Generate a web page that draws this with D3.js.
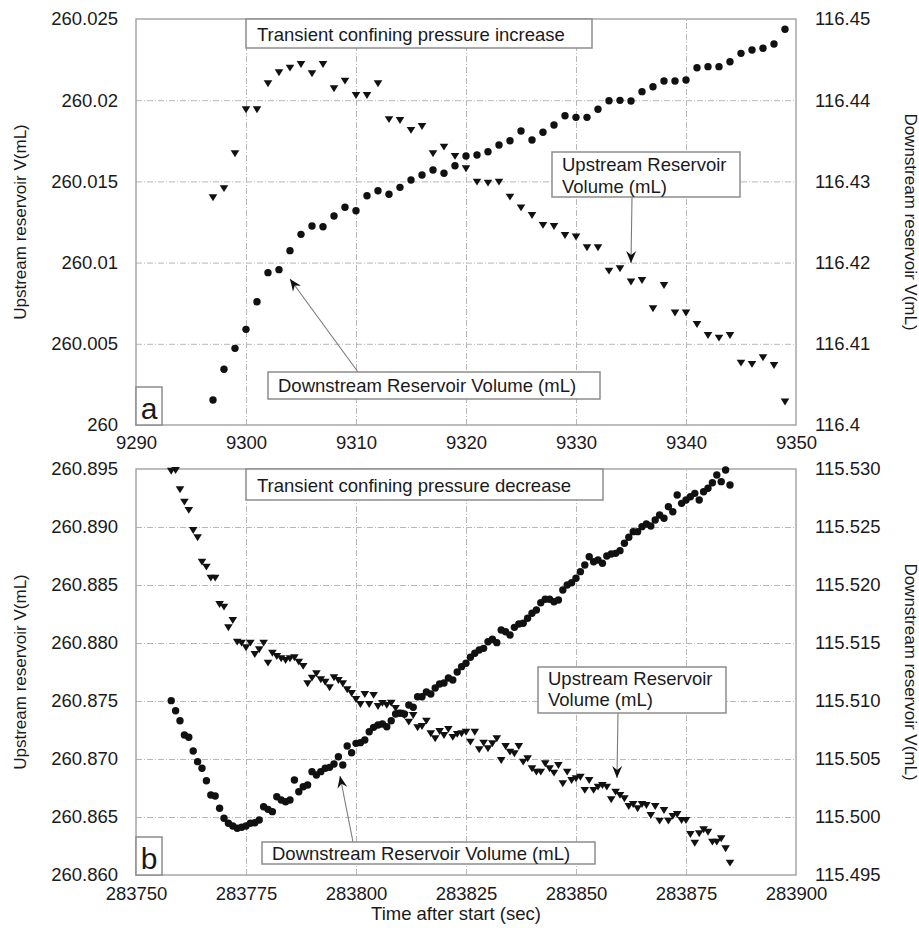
<!DOCTYPE html>
<html><head><meta charset="utf-8">
<script src="https://cdn.jsdelivr.net/npm/d3@7"></script>
<style>
body{margin:0;background:#fff}
svg{display:block}
text{font-family:"Liberation Sans",Arial,Helvetica,sans-serif;fill:#1a1a1a}
</style>
</head><body>
<svg id="c" width="919" height="928"></svg>
<script>
// ---------------- DATA ----------------
// Panel a: transient confining pressure increase
const timeA = [9297,9298,9299,9300,9301,9302,9303,9304,9305,9306,9307,9308,9309,9310,9311,9312,9313,9314,9315,9316,9317,9318,9319,9320,9321,9322,9323,9324,9325,9326,9327,9328,9329,9330,9331,9332,9333,9334,9335,9336,9337,9338,9339,9340,9341,9342,9343,9344,9345,9346,9347,9348,9349];
const upstreamA = [260.01402,260.01458,260.01673,260.01944,260.01944,260.02104,260.02172,260.02200,260.02223,260.02166,260.02223,260.02073,260.02120,260.02032,260.02032,260.02104,260.01883,260.01878,260.01817,260.01841,260.01673,260.01714,260.01657,260.01581,260.01498,260.01492,260.01498,260.01406,260.01340,260.01293,260.01232,260.01225,260.01170,260.01160,260.01094,260.01094,260.00950,260.00965,260.00883,260.00893,260.00719,260.00862,260.00692,260.00692,260.00622,260.00554,260.00538,260.00554,260.00384,260.00376,260.00417,260.00369,260.00144];
const downstreamA = [116.40308,116.40686,116.40944,116.41178,116.41518,116.41876,116.41913,116.42147,116.42348,116.42451,116.42442,116.42574,116.42681,116.42639,116.42824,116.42885,116.42841,116.42927,116.43017,116.43079,116.43140,116.43100,116.43193,116.43313,116.43325,116.43366,116.43448,116.43501,116.43621,116.43510,116.43605,116.43695,116.43809,116.43789,116.43789,116.43888,116.43994,116.43998,116.43990,116.44105,116.44166,116.44236,116.44236,116.44249,116.44400,116.44413,116.44413,116.44474,116.44577,116.44618,116.44639,116.44692,116.44873];
const xTicksA = [9290,9300,9310,9320,9330,9340,9350];
const xLabelsA = ["9290","9300","9310","9320","9330","9340","9350"];
const yLeftTicksA = [260,260.005,260.01,260.015,260.02,260.025];
const yLeftLabelsA = ["260","260.005","260.01","260.015","260.02","260.025"];
const yRightTicksA = [116.4,116.41,116.42,116.43,116.44,116.45];
const yRightLabelsA = ["116.4","116.41","116.42","116.43","116.44","116.45"];

// Panel b: transient confining pressure decrease
const timeB = [283758,283759,283760,283761,283762,283763,283764,283765,283766,283767,283768,283769,283770,283771,283772,283773,283774,283775,283776,283777,283778,283779,283780,283781,283782,283783,283784,283785,283786,283787,283788,283789,283790,283791,283792,283793,283794,283795,283796,283797,283798,283799,283800,283801,283802,283803,283804,283805,283806,283807,283808,283809,283810,283811,283812,283813,283814,283815,283816,283817,283818,283819,283820,283821,283822,283823,283824,283825,283826,283827,283828,283829,283830,283831,283832,283833,283834,283835,283836,283837,283838,283839,283840,283841,283842,283843,283844,283845,283846,283847,283848,283849,283850,283851,283852,283853,283854,283855,283856,283857,283858,283859,283860,283861,283862,283863,283864,283865,283866,283867,283868,283869,283870,283871,283872,283873,283874,283875,283876,283877,283878,283879,283880,283881,283882,283883,283884,283885];
const upstreamB = [260.89485,260.89491,260.89325,260.89218,260.89147,260.88974,260.88911,260.88701,260.88658,260.88563,260.88563,260.88336,260.88313,260.88135,260.88198,260.88011,260.88003,260.87963,260.88003,260.87905,260.87946,260.88003,260.87830,260.87916,260.87888,260.87868,260.87853,260.87868,260.87877,260.87839,260.87802,260.87653,260.87701,260.87739,260.87687,260.87666,260.87618,260.87704,260.87681,260.87653,260.87601,260.87569,260.87517,260.87474,260.87560,260.87474,260.87552,260.87457,260.87483,260.87466,260.87485,260.87440,260.87399,260.87379,260.87322,260.87379,260.87273,260.87284,260.87330,260.87222,260.87178,260.87241,260.87207,260.87259,260.87190,260.87216,260.87222,260.87235,260.87149,260.87235,260.87084,260.87141,260.87092,260.87135,260.87178,260.86991,260.87112,260.87063,260.87049,260.87112,260.86977,260.87006,260.86920,260.86891,260.86891,260.86963,260.86920,260.86882,260.86948,260.86791,260.86891,260.86819,260.86834,260.86847,260.86733,260.86819,260.86733,260.86761,260.86776,260.86761,260.86653,260.86718,260.86690,260.86661,260.86595,260.86612,260.86575,260.86612,260.86603,260.86517,260.86595,260.86468,260.86560,260.86468,260.86509,260.86526,260.86474,260.86474,260.86353,260.86278,260.86360,260.86394,260.86373,260.86287,260.86287,260.86316,260.86230,260.86106];
const downstreamB = [115.51003,115.50916,115.50830,115.50707,115.50687,115.50569,115.50477,115.50420,115.50313,115.50190,115.50181,115.50075,115.49989,115.49946,115.49922,115.49903,115.49911,115.49922,115.49946,115.49951,115.49974,115.50089,115.50066,115.50046,115.50175,115.50147,115.50132,115.50147,115.50319,115.50218,115.50261,115.50276,115.50391,115.50362,115.50391,115.50420,115.50428,115.50457,115.50520,115.50448,115.50612,115.50554,115.50635,115.50641,115.50664,115.50735,115.50773,115.50793,115.50802,115.50778,115.50830,115.50888,115.50894,115.50888,115.50966,115.50946,115.51037,115.51037,115.51078,115.51060,115.51112,115.51147,115.51155,115.51198,115.51181,115.51250,115.51296,115.51325,115.51377,115.51411,115.51440,115.51454,115.51511,115.51532,115.51503,115.51612,115.51597,115.51569,115.51635,115.51664,115.51670,115.51713,115.51756,115.51784,115.51847,115.51877,115.51877,115.51856,115.51871,115.51957,115.52000,115.52020,115.52058,115.52115,115.52172,115.52244,115.52201,115.52216,115.52187,115.52250,115.52267,115.52273,115.52296,115.52360,115.52411,115.52460,115.52460,115.52503,115.52526,115.52509,115.52560,115.52603,115.52575,115.52675,115.52632,115.52776,115.52704,115.52733,115.52761,115.52790,115.52733,115.52804,115.52834,115.52882,115.52948,115.52891,115.52991,115.52862];
const xTicksB = [283750,283775,283800,283825,283850,283875,283900];
const xLabelsB = ["283750","283775","283800","283825","283850","283875","283900"];
const yLeftTicksB = [260.860,260.865,260.870,260.875,260.880,260.885,260.890,260.895];
const yLeftLabelsB = ["260.860","260.865","260.870","260.875","260.880","260.885","260.890","260.895"];
const yRightTicksB = [115.495,115.500,115.505,115.510,115.515,115.520,115.525,115.530];
const yRightLabelsB = ["115.495","115.500","115.505","115.510","115.515","115.520","115.525","115.530"];

const leftTitle = "Upstream reservoir V(mL)";
const rightTitle = "Downstream reservoir V(mL)";
const xTitle = "Time after start (sec)";

// ---------------- DRAW ----------------
const svg = d3.select("#c");
const FS = 18.5;
const L = 136, R = 796;

const defs = svg.append("defs");
defs.append("marker").attr("id","ah").attr("viewBox","-12 -6 14 12")
  .attr("refX",0).attr("refY",0).attr("markerWidth",14).attr("markerHeight",12)
  .attr("markerUnits","userSpaceOnUse").attr("orient","auto")
  .append("path").attr("d","M0,0 L-12,-5 L-8,0 L-12,5 Z").attr("fill","#111");

const triPath = "M-4.3,-3 L4.3,-3 L0,3.9 Z";

function panel(cfg){
  const top = cfg.top, bottom = cfg.bottom;
  const x = d3.scaleLinear().domain(cfg.xDomain).range([L,R]);
  const yl = d3.scaleLinear().domain(cfg.ylDomain).range([bottom,top]);
  const yr = d3.scaleLinear().domain(cfg.yrDomain).range([bottom,top]);
  const g = svg.append("g");

  // grid
  const gridX = g.append("g").attr("transform",`translate(0,${bottom})`)
    .call(d3.axisBottom(x).tickValues(cfg.xTicks.slice(1,-1)).tickSize(-(bottom-top)).tickFormat(""));
  const gridY = g.append("g").attr("transform",`translate(${L},0)`)
    .call(d3.axisLeft(yl).tickValues(cfg.ylTicks.slice(1,-1)).tickSize(-(R-L)).tickFormat(""));
  [gridX,gridY].forEach(a=>{
    a.select(".domain").remove();
    a.selectAll("line").attr("stroke","#b8b8b8").attr("stroke-width",1).attr("stroke-dasharray","6,2,1,2");
  });

  // frame
  g.append("rect").attr("x",L).attr("y",top).attr("width",R-L).attr("height",bottom-top)
    .attr("fill","none").attr("stroke","#a6a6a6").attr("stroke-width",1.5);

  // axes labels
  const ax = g.append("g").attr("transform",`translate(0,${bottom})`)
    .call(d3.axisBottom(x).tickValues(cfg.xTicks).tickFormat((d,i)=>cfg.xLabels[i]).tickSize(0).tickPadding(cfg.xPad));
  const ayl = g.append("g").attr("transform",`translate(${L},0)`)
    .call(d3.axisLeft(yl).tickValues(cfg.ylTicks).tickFormat((d,i)=>cfg.ylLabels[i]).tickSize(0).tickPadding(18));
  const ayr = g.append("g").attr("transform",`translate(${R},0)`)
    .call(d3.axisRight(yr).tickValues(cfg.yrTicks).tickFormat((d,i)=>cfg.yrLabels[i]).tickSize(0).tickPadding(19));
  [ax,ayl,ayr].forEach(a=>{
    a.select(".domain").remove();
    a.selectAll("text").attr("font-size",FS).attr("font-family",'"Liberation Sans",Arial,sans-serif').attr("fill","#1a1a1a");
  });

  // titles
  g.append("text").attr("transform",`translate(26,${(top+bottom)/2}) rotate(-90)`)
    .attr("text-anchor","middle").attr("font-size",17).text(leftTitle);
  g.append("text").attr("transform",`translate(905,${(top+bottom)/2}) rotate(90)`)
    .attr("text-anchor","middle").attr("font-size",17).text(rightTitle);

  // annotation boxes
  const ann = cfg.ann;
  function box(b){
    g.append("rect").attr("x",b.x).attr("y",b.y).attr("width",b.w).attr("height",b.h)
      .attr("fill","#fff").attr("stroke","#8c8c8c").attr("stroke-width",1.5);
    b.lines.forEach((t,i)=>{
      g.append("text").attr("x",b.tx).attr("y",b.ty[i]).attr("font-size",b.fs||FS)
        .attr("text-anchor",b.anchor||"start").text(t);
    });
  }
  function arrow(a){
    g.append("line").attr("x1",a.x1).attr("y1",a.y1).attr("x2",a.x2).attr("y2",a.y2)
      .attr("stroke","#7a7a7a").attr("stroke-width",1.1).attr("marker-end","url(#ah)");
  }

  // data points
  const upData = cfg.time.map((t,i)=>({t,v:cfg.up[i]}));
  const downData = cfg.time.map((t,i)=>({t,v:cfg.down[i]}));

  arrow(ann.upArrow); arrow(ann.downArrow);

  g.append("g").selectAll("path").data(upData).join("path")
    .attr("d",triPath).attr("fill","#111")
    .attr("transform",d=>`translate(${x(d.t)},${yl(d.v)})`);
  g.append("g").selectAll("circle").data(downData).join("circle")
    .attr("cx",d=>x(d.t)).attr("cy",d=>yr(d.v)).attr("r",3.7).attr("fill","#111");

  box(ann.title); box(ann.upBox); box(ann.downBox); box(ann.letter);
}

panel({
  top:19, bottom:425, xPad:11,
  xDomain:[9290,9350], ylDomain:[260,260.025], yrDomain:[116.4,116.45],
  xTicks:xTicksA, xLabels:xLabelsA, ylTicks:yLeftTicksA, ylLabels:yLeftLabelsA,
  yrTicks:yRightTicksA, yrLabels:yRightLabelsA,
  time:timeA, up:upstreamA, down:downstreamA,
  ann:{
    title:{x:246,y:19,w:346,h:29,tx:257,ty:[41],lines:["Transient confining pressure increase"]},
    upBox:{x:552,y:152,w:188,h:45,tx:562,ty:[171,193],lines:["Upstream Reservoir","Volume (mL)"]},
    downBox:{x:268,y:372,w:332,h:27,tx:278,ty:[392],lines:["Downstream Reservoir Volume (mL)"]},
    letter:{x:136,y:387,w:26,h:38,tx:149,ty:[419],lines:["a"],fs:30,anchor:"middle"},
    upArrow:{x1:632,y1:197,x2:631,y2:263},
    downArrow:{x1:358,y1:372,x2:290,y2:279}
  }
});

panel({
  top:469, bottom:875, xPad:12,
  xDomain:[283750,283900], ylDomain:[260.86,260.895], yrDomain:[115.495,115.53],
  xTicks:xTicksB, xLabels:xLabelsB, ylTicks:yLeftTicksB, ylLabels:yLeftLabelsB,
  yrTicks:yRightTicksB, yrLabels:yRightLabelsB,
  time:timeB, up:upstreamB, down:downstreamB,
  ann:{
    title:{x:246,y:469,w:357,h:31,tx:257,ty:[492],lines:["Transient confining pressure decrease"]},
    upBox:{x:538,y:667,w:188,h:46,tx:548,ty:[685,706],lines:["Upstream Reservoir","Volume (mL)"]},
    downBox:{x:262,y:842,w:333,h:22,tx:272,ty:[860],lines:["Downstream Reservoir Volume (mL)"]},
    letter:{x:136,y:837,w:26,h:38,tx:149,ty:[869],lines:["b"],fs:30,anchor:"middle"},
    upArrow:{x1:618,y1:713,x2:617,y2:778},
    downArrow:{x1:353,y1:842,x2:340,y2:776}
  }
});

svg.append("text").attr("x",456).attr("y",920).attr("text-anchor","middle").attr("font-size",FS).text(xTitle);
</script>
</body></html>
